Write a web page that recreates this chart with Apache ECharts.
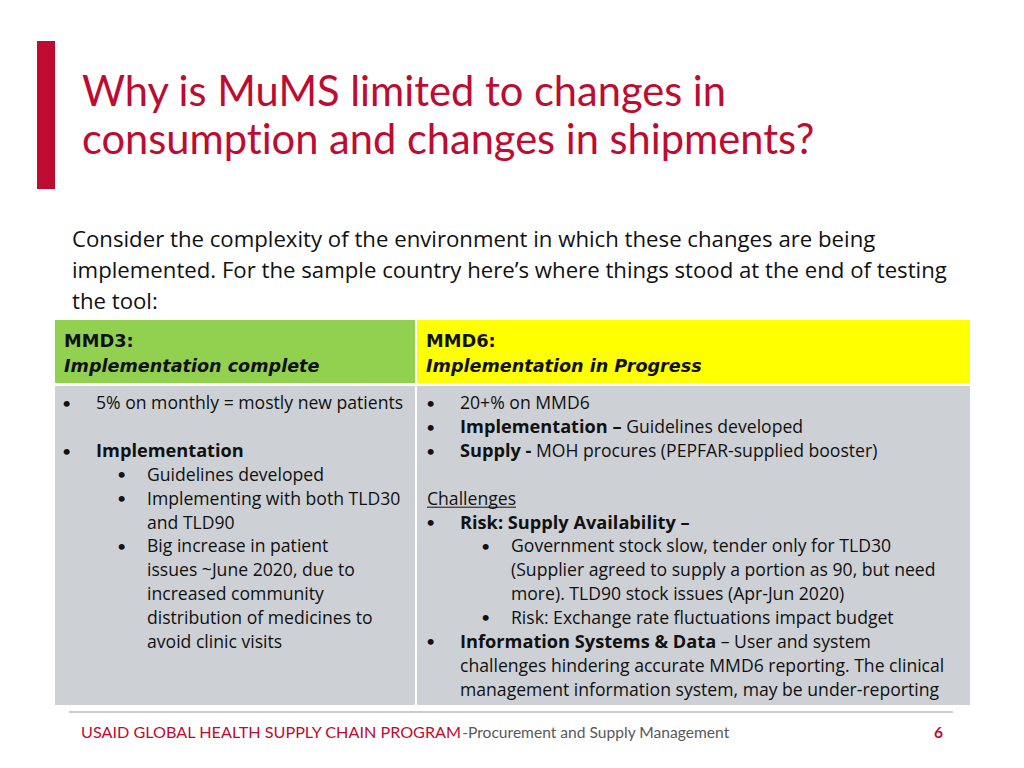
<!DOCTYPE html>
<html><head><meta charset="utf-8">
<script src="https://cdn.jsdelivr.net/npm/echarts@6/dist/echarts.min.js"></script>
<style>html,body{margin:0;padding:0;background:#fff}#c{width:1024px;height:768px}
#c text, #c tspan{font-variant-ligatures:none !important;font-feature-settings:"liga" 0,"clig" 0 !important}</style>
</head><body><div id="c"></div>
<script>
// ---- content ----
var titleLines = ['Why is MuMS limited to changes in', 'consumption and changes in shipments?'];
var introLines = [
  'Consider the complexity of the environment in which these changes are being',
  'implemented. For the sample country here\u2019s where things stood at the end of testing',
  'the tool:'
];
var headerTitles = ['MMD3:', 'MMD6:'];
var headerSubtitles = ['Implementation complete', 'Implementation in Progress'];
// kind: b1 = bullet level 1, b2 = bullet level 2, c1/c2 = continuation, h = heading (underlined), '' = blank
var leftKinds = ['b1', '', 'b1', 'b2', 'b2', 'c2', 'b2', 'c2', 'c2', 'c2', 'c2'];
var leftTexts = [
  '5% on monthly = mostly new patients', '',
  '{b|Implementation}',
  'Guidelines developed',
  'Implementing with both TLD30',
  'and TLD90',
  'Big increase in patient',
  'issues ~June 2020, due to',
  'increased community',
  'distribution of medicines to',
  'avoid clinic visits'
];
var rightKinds = ['b1', 'b1', 'b1', '', 'h', 'b1', 'b2', 'c2', 'c2', 'b2', 'b1', 'c1', 'c1'];
var rightTexts = [
  '20+% on MMD6',
  '{b|Implementation \u2013} Guidelines developed',
  '{b|Supply -} MOH procures (PEPFAR-supplied booster)',
  '',
  'Challenges',
  '{b|Risk: Supply Availability \u2013}',
  'Government stock slow, tender only for TLD30',
  '(Supplier agreed to supply a portion as 90, but need',
  'more). TLD90 stock issues (Apr-Jun 2020)',
  'Risk: Exchange rate fluctuations impact budget',
  '{b|Information Systems & Data} \u2013 User and system',
  'challenges hindering accurate MMD6 reporting. The clinical',
  'management information system, may be under-reporting'
];
var footerMain = 'USAID GLOBAL HEALTH SUPPLY CHAIN PROGRAM';
var footerSub = '-Procurement and Supply Management';
var pageNumber = '6';

// ---- layout ----
var LATO = 'Lato, sans-serif';
var OPEN = '"Open Sans", sans-serif';
var DEJA = '"DejaVu Sans", sans-serif';
var RED = '#BE0B31';
var TXT = '#111111';
var els = [];

els.push({type:'rect', shape:{x:37,y:41,width:18,height:148}, style:{fill:RED}});
titleLines.forEach(function(t,i){
  els.push({type:'text', x:82, y:89.5+i*48, style:{text:t, font:'400 41.6px '+LATO, fill:RED, textVerticalAlign:'middle'}});
});
introLines.forEach(function(t,i){
  els.push({type:'text', x:72, y:238.5+i*31, style:{text:t, font:'400 22.2px '+OPEN, fill:TXT, textVerticalAlign:'middle'}});
});

// table
var colX = [55, 417], colW = [360, 553];
var headFill = ['#92D050', '#FFFF00'];
for (var c=0;c<2;c++){
  els.push({type:'rect', shape:{x:colX[c],y:320,width:colW[c],height:63}, style:{fill:headFill[c]}});
  els.push({type:'rect', shape:{x:colX[c],y:386,width:colW[c],height:319}, style:{fill:'#CDD0D5'}});
  els.push({type:'text', x:colX[c]+9, y:340, style:{text:headerTitles[c], font:'700 17.8px '+DEJA, fill:TXT, textVerticalAlign:'middle'}});
  els.push({type:'text', x:colX[c]+9, y:365.5, style:{text:headerSubtitles[c], font:'italic 700 17.6px '+DEJA, fill:TXT, textVerticalAlign:'middle'}});
}

var measureCtx = document.createElement('canvas').getContext('2d');
function addBody(kinds, texts, x0){
  var LH = 23.85, y0 = 402.3, fs = 17.6;
  var pos = {b1:{bx:x0+7,tx:x0+41}, c1:{tx:x0+41}, b2:{bx:x0+62,tx:x0+92}, c2:{tx:x0+92}, h:{tx:x0+8}};
  kinds.forEach(function(k,i){
    if(!k) return;
    var y = y0 + i*LH, p = pos[k];
    if(p.bx !== undefined){
      els.push({type:'text', x:p.bx, y:y, style:{text:'\u2022', font:'400 16px '+LATO, fill:TXT, textVerticalAlign:'middle'}});
    }
    els.push({type:'text', x:p.tx, y:y, style:{text:texts[i], font:'400 '+fs+'px '+OPEN, fill:TXT, textVerticalAlign:'middle',
      rich:{b:{fontWeight:'bold', fontSize:18.2, fontFamily:OPEN, fill:TXT}}}});
    if(k==='h'){
      measureCtx.font = '400 '+fs+'px '+OPEN;
      var w = measureCtx.measureText(texts[i]).width;
      els.push({type:'line', shape:{x1:p.tx,y1:y+9.5,x2:p.tx+w,y2:y+9.5}, style:{stroke:TXT,lineWidth:1}});
    }
  });
}
addBody(leftKinds, leftTexts, 55);
addBody(rightKinds, rightTexts, 419);

// footer
els.push({type:'line', shape:{x1:69,y1:712,x2:953,y2:712}, style:{stroke:'#BBBBBB',lineWidth:1.3}});
els.push({type:'text', x:81, y:731.5, style:{text:'{r|'+footerMain+'}{g|'+footerSub+'}', textVerticalAlign:'middle',
  rich:{r:{fill:RED, fontSize:16.2, fontFamily:LATO}, g:{fill:'#595959', fontSize:15.6, fontFamily:LATO}}}});
els.push({type:'text', x:943, y:731.5, style:{text:pageNumber, font:'700 15.5px '+LATO, fill:RED, textAlign:'right', textVerticalAlign:'middle'}});

var chart = echarts.init(document.getElementById('c'), null, {renderer:'svg'});
chart.setOption({backgroundColor:'#fff', animation:false, graphic:{elements:els}});
</script></body></html>
